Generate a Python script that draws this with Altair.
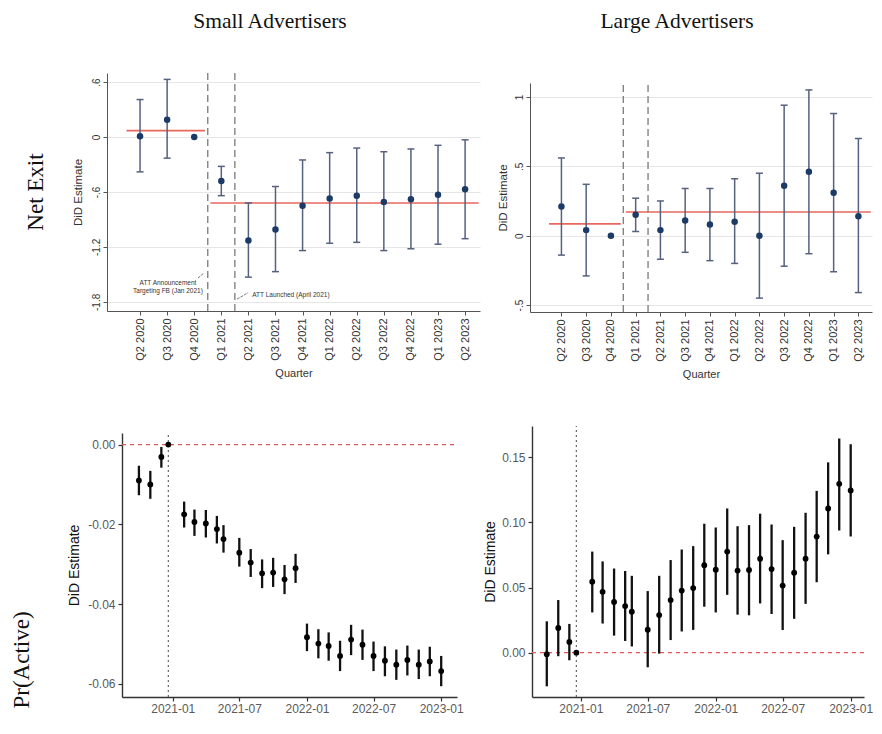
import altair as alt
import pandas as pd

W, H = 866, 712
SANS = "Liberation Sans"
SERIF = "Liberation Serif"

# ---------------- data ----------------
quarters = ["Q2 2020", "Q3 2020", "Q4 2020", "Q1 2021", "Q2 2021", "Q3 2021", "Q4 2021",
            "Q1 2022", "Q2 2022", "Q3 2022", "Q4 2022", "Q1 2023", "Q2 2023"]
quarter_idx = list(range(len(quarters)))
event_idx = [2.5, 3.5]

ne_small_est = [0.01, 0.19, 0.0, -0.48, -1.13, -1.01, -0.75, -0.67, -0.64, -0.71, -0.68, -0.63, -0.57]
ne_small_lo = [-0.38, -0.23, None, -0.64, -1.53, -1.47, -1.24, -1.16, -1.15, -1.24, -1.22, -1.17, -1.11]
ne_small_hi = [0.41, 0.63, None, -0.32, -0.72, -0.54, -0.25, -0.17, -0.12, -0.16, -0.13, -0.09, -0.03]
ne_small_seg_x0 = [-0.5, 2.6]
ne_small_seg_x1 = [2.4, 12.5]
ne_small_seg_mean = [0.07, -0.72]

ne_large_est = [0.21, 0.04, 0.0, 0.15, 0.04, 0.11, 0.08, 0.10, 0.0, 0.36, 0.46, 0.31, 0.14]
ne_large_lo = [-0.14, -0.29, None, 0.03, -0.17, -0.12, -0.18, -0.20, -0.45, -0.22, -0.13, -0.26, -0.41]
ne_large_hi = [0.56, 0.37, None, 0.27, 0.25, 0.34, 0.34, 0.41, 0.45, 0.94, 1.05, 0.88, 0.70]
ne_large_seg_x0 = [-0.5, 2.6]
ne_large_seg_x1 = [2.4, 12.5]
ne_large_seg_mean = [0.085, 0.17]

annot_text = ["ATT Announcement", "Targeting FB (Jan 2021)"]
annot_x = [1.03, 1.03]
annot_y = [-1.59, -1.68]
launch_text = ["ATT Launched (April 2021)"]
launch_x = [4.14]
launch_y = [-1.725]
arrow_x0 = [2.14, 3.58]
arrow_y0 = [-1.54, -1.77]
arrow_x1 = [2.36, 3.99]
arrow_y1 = [-1.485, -1.70]

months = ["2020-10-01", "2020-11-01", "2020-12-01", "2020-12-20", "2021-02-01", "2021-03-01",
          "2021-04-01", "2021-05-01", "2021-05-19", "2021-07-01", "2021-08-01", "2021-09-01",
          "2021-10-01", "2021-11-01", "2021-12-01", "2022-01-01", "2022-02-01", "2022-03-01",
          "2022-04-01", "2022-05-01", "2022-06-01", "2022-07-01", "2022-08-01", "2022-09-01",
          "2022-10-01", "2022-11-01", "2022-12-01", "2023-01-01"]
ref_date = ["2020-12-20"]
date_ticks = ["2021-01-01", "2021-07-01", "2022-01-01", "2022-07-01", "2023-01-01"]

pa_small_est = [-0.0090, -0.0100, -0.0031, 0.0, -0.0175, -0.0194, -0.0198, -0.0212, -0.0237,
                -0.0271, -0.0296, -0.0323, -0.0321, -0.0338, -0.0310, -0.0483, -0.0499, -0.0505,
                -0.0530, -0.0489, -0.0502, -0.0530, -0.0542, -0.0552, -0.0540, -0.0552, -0.0544, -0.0568]
pa_small_lo = [-0.0127, -0.0136, -0.0058, None, -0.0208, -0.0229, -0.0233, -0.0248, -0.0271,
               -0.0306, -0.0332, -0.0360, -0.0357, -0.0375, -0.0347, -0.0518, -0.0536, -0.0542,
               -0.0568, -0.0528, -0.0540, -0.0568, -0.0581, -0.0590, -0.0579, -0.0588, -0.0581, -0.0606]
pa_small_hi = [-0.0053, -0.0066, -0.0006, None, -0.0143, -0.0163, -0.0164, -0.0179, -0.0202,
               -0.0234, -0.0262, -0.0288, -0.0284, -0.0302, -0.0274, -0.0449, -0.0463, -0.0471,
               -0.0492, -0.0452, -0.0464, -0.0494, -0.0506, -0.0514, -0.0504, -0.0514, -0.0507, -0.0530]

pa_large_est = [-0.0012, 0.0190, 0.0083, 0.0, 0.0545, 0.0467, 0.0389, 0.0358, 0.0315, 0.0176,
                0.0289, 0.0404, 0.0477, 0.0496, 0.0672, 0.0637, 0.0776, 0.0630, 0.0635, 0.0722,
                0.0642, 0.0515, 0.0614, 0.0722, 0.0891, 0.1107, 0.1296, 0.1245]
pa_large_lo = [-0.0258, -0.0027, -0.0058, None, 0.0309, 0.0224, 0.0131, 0.0090, 0.0048, -0.0112,
               -0.0007, 0.0097, 0.0163, 0.0175, 0.0353, 0.0309, 0.0444, 0.0292, 0.0287, 0.0378,
               0.0297, 0.0174, 0.0260, 0.0375, 0.0541, 0.0755, 0.0938, 0.0892]
pa_large_hi = [0.0241, 0.0404, 0.0221, None, 0.0776, 0.0701, 0.0646, 0.0627, 0.0590, 0.0473,
               0.0590, 0.0711, 0.0792, 0.0818, 0.0990, 0.0961, 0.1107, 0.0971, 0.0979, 0.1067,
               0.0984, 0.0864, 0.0966, 0.1074, 0.1242, 0.1461, 0.1644, 0.1600]

tl_yticks = [0.6, 0, -0.6, -1.2, -1.8]
tl_ylabels = [".6", "0", "-.6", "-1.2", "-1.8"]
tr_yticks = [1, 0.5, 0, -0.5]
tr_ylabels = ["1", ".5", "0", "-.5"]
bl_yticks = [0, -0.02, -0.04, -0.06]
bl_ylabels = ["0.00", "-0.02", "-0.04", "-0.06"]
br_yticks = [0, 0.05, 0.10, 0.15]
br_ylabels = ["0.00", "0.05", "0.10", "0.15"]

col_titles = ["Small Advertisers", "Large Advertisers"]
row_titles = ["Net Exit", "Pr(Active)"]

NAVY = "#1b3a66"
BARC = "#56617f"
RED = "#e8675d"


def lab_expr(vals, labs):
    expr = "''"
    for v, l in zip(reversed(vals), reversed(labs)):
        expr = f"abs(datum.value - ({v})) < 1e-9 ? '{l}' : ({expr})"
    return expr


def dt(s):
    y, m, d = (int(p) for p in s.split("-"))
    return alt.DateTime(year=y, month=m, date=d)


def stata_panel(est, lo, hi, sx0, sx1, sm, xdom, xrng, ydom, yrng, yvals, ylabs, ytp, extra=None):
    xs = alt.Scale(domain=xdom, range=xrng, nice=False, zero=False)
    ys = alt.Scale(domain=ydom, range=yrng, nice=False, zero=False)
    df = pd.DataFrame({"i": quarter_idx, "q": quarters, "est": est, "lo": lo, "hi": hi})
    ci = df.dropna()
    xaxis = alt.Axis(orient="bottom", offset=yrng[0] - H, values=quarter_idx,
                     labelExpr=lab_expr(quarter_idx, quarters), labelAngle=270,
                     labelAlign="right", labelBaseline="middle", labelFont=SANS,
                     labelFontSize=11, labelColor="#333", labelPadding=3, labelFlush=False,
                     labelOverlap=False, tickSize=4, tickColor="#555", domainColor="#555",
                     domainWidth=1, grid=False, title="Quarter", titleFont=SANS,
                     titleFontSize=11, titleFontWeight="normal", titleColor="#333", titlePadding=7)
    yaxis = alt.Axis(orient="left", offset=-xrng[0], values=yvals, labelExpr=lab_expr(yvals, ylabs),
                     labelAngle=270, labelAlign="center", labelBaseline="bottom", labelFont=SANS,
                     labelFontSize=10, labelColor="#333", labelPadding=2, labelOverlap=False,
                     tickSize=4, tickColor="#555", domainColor="#555", domainWidth=1,
                     grid=True, gridColor="#e6e6e6", gridWidth=1,
                     title="DiD Estimate", titleFont=SANS, titleFontSize=11.5,
                     titleFontWeight="normal", titleColor="#333", titlePadding=ytp)
    vl = alt.Chart(pd.DataFrame({"e": event_idx, "y0": [ydom[0]] * 2, "y1": [ydom[1]] * 2})).mark_rule(
        color="#7a7a7a", strokeDash=[7, 4], strokeWidth=1.3).encode(
        x=alt.X("e:Q", scale=xs, axis=None), y=alt.Y("y0:Q", scale=ys, axis=None), y2="y1:Q")
    seg = alt.Chart(pd.DataFrame({"x0": sx0, "x1": sx1, "m": sm})).mark_rule(
        color=RED, strokeWidth=1.6).encode(
        x=alt.X("x0:Q", scale=xs, axis=None), x2="x1:Q", y=alt.Y("m:Q", scale=ys, axis=None))
    bars = alt.Chart(ci).mark_rule(color=BARC, strokeWidth=1.5).encode(
        x=alt.X("i:Q", scale=xs, axis=None), y=alt.Y("lo:Q", scale=ys, axis=None), y2="hi:Q")
    cap_lo = alt.Chart(ci).mark_tick(orient="horizontal", size=7, thickness=1.5, color=BARC, opacity=1).encode(
        x=alt.X("i:Q", scale=xs, axis=None), y=alt.Y("lo:Q", scale=ys, axis=None))
    cap_hi = alt.Chart(ci).mark_tick(orient="horizontal", size=7, thickness=1.5, color=BARC, opacity=1).encode(
        x=alt.X("i:Q", scale=xs, axis=None), y=alt.Y("hi:Q", scale=ys, axis=None))
    pts = alt.Chart(df).mark_point(filled=True, size=42, color=NAVY, opacity=1).encode(
        x=alt.X("i:Q", scale=xs, axis=xaxis), y=alt.Y("est:Q", scale=ys, axis=yaxis))
    layers = [vl, seg, bars, cap_lo, cap_hi, pts]
    if extra:
        layers += extra(xs, ys)
    return layers


def tl_annotations(xs, ys):
    a = alt.Chart(pd.DataFrame({"x": annot_x, "y": annot_y, "t": annot_text})).mark_text(
        font=SANS, fontSize=6.5, color="#333", align="center", baseline="middle").encode(
        x=alt.X("x:Q", scale=xs, axis=None), y=alt.Y("y:Q", scale=ys, axis=None), text="t:N")
    b = alt.Chart(pd.DataFrame({"x": launch_x, "y": launch_y, "t": launch_text})).mark_text(
        font=SANS, fontSize=6.5, color="#333", align="left", baseline="middle").encode(
        x=alt.X("x:Q", scale=xs, axis=None), y=alt.Y("y:Q", scale=ys, axis=None), text="t:N")
    c = alt.Chart(pd.DataFrame({"x0": arrow_x0, "y0": arrow_y0, "x1": arrow_x1, "y1": arrow_y1})).mark_rule(
        color="#555", strokeWidth=0.8, strokeDash=[3, 1]).encode(
        x=alt.X("x0:Q", scale=xs, axis=None), x2="x1:Q",
        y=alt.Y("y0:Q", scale=ys, axis=None), y2="y1:Q")
    return [a, b, c]


def gg_panel(est, lo, hi, xdom, xrng, ydom, yrng, yvals, ylabs, ytp):
    xs = alt.Scale(domain=[dt(xdom[0]), dt(xdom[1])], range=xrng, nice=False)
    ys = alt.Scale(domain=ydom, range=yrng, nice=False, zero=False)
    df = pd.DataFrame({"d": pd.to_datetime(months), "est": est, "lo": lo, "hi": hi})
    ci = df.dropna()
    xaxis = alt.Axis(orient="bottom", offset=yrng[0] - H, values=[dt(s) for s in date_ticks],
                     format="%Y-%m", labelAngle=0, labelFont=SANS, labelFontSize=12,
                     labelColor="#5a5a5a", labelPadding=2, labelFlush=False, labelOverlap=False,
                     tickSize=4, tickColor="#333", tickWidth=1.2, domainColor="#333",
                     domainWidth=1.4, grid=False, title="")
    yaxis = alt.Axis(orient="left", offset=-xrng[0], values=yvals, labelExpr=lab_expr(yvals, ylabs),
                     labelFont=SANS, labelFontSize=12, labelColor="#5a5a5a", labelPadding=3,
                     labelOverlap=False, tickSize=4, tickColor="#333", tickWidth=1.2,
                     domainColor="#333", domainWidth=1.4, grid=False,
                     title="DiD Estimate", titleFont=SANS, titleFontSize=14,
                     titleFontWeight="normal", titleColor="#111", titlePadding=ytp)
    hl = alt.Chart(pd.DataFrame({"x0": pd.to_datetime([xdom[0]]), "x1": pd.to_datetime([xdom[1]]),
                                 "y": [0.0]})).mark_rule(color="#e05a5a", strokeDash=[4, 4],
                                                          strokeWidth=1.2).encode(
        x=alt.X("x0:T", scale=xs, axis=None), x2="x1:T", y=alt.Y("y:Q", scale=ys, axis=None))
    vl = alt.Chart(pd.DataFrame({"d": pd.to_datetime(ref_date), "y0": [ydom[0]], "y1": [ydom[1]]})).mark_rule(
        color="#666", strokeDash=[2, 3], strokeWidth=1.2).encode(
        x=alt.X("d:T", scale=xs, axis=None), y=alt.Y("y0:Q", scale=ys, axis=None), y2="y1:Q")
    bars = alt.Chart(ci).mark_rule(color="#111", strokeWidth=2.3).encode(
        x=alt.X("d:T", scale=xs, axis=None), y=alt.Y("lo:Q", scale=ys, axis=None), y2="hi:Q")
    pts = alt.Chart(df).mark_point(filled=True, size=34, color="#000", opacity=1).encode(
        x=alt.X("d:T", scale=xs, axis=xaxis), y=alt.Y("est:Q", scale=ys, axis=yaxis))
    return [hl, vl, bars, pts]


tl = stata_panel(ne_small_est, ne_small_lo, ne_small_hi, ne_small_seg_x0, ne_small_seg_x1,
                 ne_small_seg_mean, [-1.22, 12.55], [99, 472], [-1.9, 0.7], [303, 65],
                 tl_yticks, tl_ylabels, 8, extra=tl_annotations)
tr = stata_panel(ne_large_est, ne_large_lo, ne_large_hi, ne_large_seg_x0, ne_large_seg_x1,
                 ne_large_seg_mean, [-1.27, 12.55], [522, 864], [-0.55, 1.1], [304, 75],
                 tr_yticks, tr_ylabels, 6)
bl = gg_panel(pa_small_est, pa_small_lo, pa_small_hi, ["2020-08-16", "2023-02-13"], [114, 449],
              [-0.0633, 0.0029], [689, 425], bl_yticks, bl_ylabels, 6)
br = gg_panel(pa_large_est, pa_large_lo, pa_large_hi, ["2020-08-22", "2023-02-06"], [524, 856],
              [-0.034, 0.174], [689, 418], br_yticks, br_ylabels, 4)


def label(text, x, y, angle=0, size=21):
    return alt.Chart(pd.DataFrame({"t": [text]})).mark_text(
        font=SERIF, fontSize=size, color="#111", align="center", baseline="middle",
        angle=angle).encode(text="t:N", x=alt.value(x), y=alt.value(y))


headers = [
    label(col_titles[0], 262, 14, size=21.5),
    label(col_titles[1], 669, 14, size=21.5),
    label(row_titles[0], 28, 184, angle=270, size=23),
    label(row_titles[1], 14, 652, angle=270, size=23),
]

chart = alt.layer(*tl, *tr, *bl, *br, *headers).resolve_scale(
    x="independent", y="independent").resolve_axis(
    x="independent", y="independent").properties(
    width=W, height=H, autosize=alt.AutoSizeParams(type="none"), padding=0,
    background="white").configure_view(strokeWidth=0)

chart.save("out.html", embed_options={"renderer": "svg", "actions": False})
